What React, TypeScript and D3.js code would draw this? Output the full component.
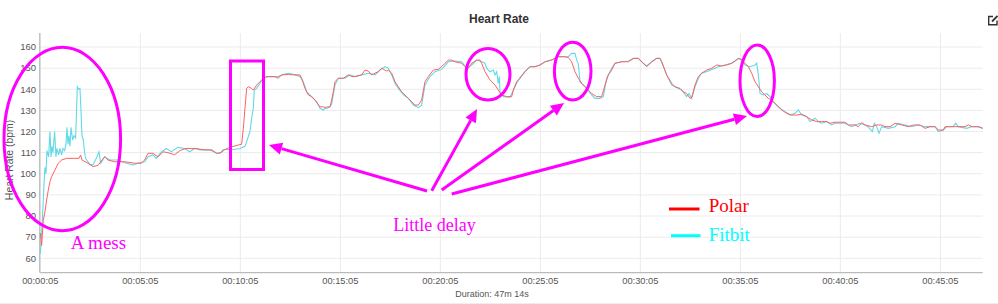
import React from "react";
import * as d3 from "d3";

// ---- data (time in seconds since start, heart rate in bpm) ----
const polarTimes = [5,9,14,19,24,29,34,39,49,59,69,84,121,126,130,148,163,178,198,208,228,258,288,308,318,328,343,358,373,388,408,424,442,469,499,520,534,547,559,574,599,609,614,619,624,629,639,644,654,664,674,684,709,718,729,749,769,784,789,799,809,819,829,844,854,864,874,879,884,889,899,914,929,939,949,969,979,989,999,1009,1019,1029,1044,1049,1059,1069,1079,1089,1099,1109,1119,1129,1139,1149,1159,1169,1184,1199,1209,1219,1229,1239,1249,1269,1279,1289,1299,1314,1324,1329,1339,1354,1369,1379,1389,1404,1419,1424,1434,1444,1459,1474,1489,1504,1519,1539,1559,1579,1589,1599,1609,1619,1629,1644,1659,1674,1689,1699,1709,1719,1729,1749,1769,1784,1799,1814,1824,1839,1854,1864,1869,1884,1899,1909,1924,1934,1944,1954,1959,1969,1979,1989,2004,2019,2034,2049,2064,2079,2089,2099,2109,2119,2129,2139,2149,2159,2169,2179,2189,2199,2209,2219,2229,2244,2259,2274,2289,2304,2319,2334,2349,2364,2374,2389,2419,2429,2449,2459,2469,2479,2499,2514,2529,2539,2554,2569,2589,2609,2624,2644,2659,2674,2689,2699,2714,2719,2749,2779,2789,2800,2818,2832];
const polarValues = [72,66,78,82,87.6,92.3,96.3,98.6,101.8,105,106.5,107.3,107.3,108.9,106.5,105,103.4,104,108.1,106.5,105.7,105.7,105,105,106.5,109.7,109.7,108,110.4,110,109,111,112,112,111.3,111.3,109.7,110,111.5,112.5,113.6,114,121.5,131,140.4,141.2,140.4,139.6,142,143.6,145.2,146,146,145.2,146.8,147,146.8,146.8,145.2,140.4,137.3,136.5,134.9,131.7,131.7,131,131.7,134.9,138.8,143.6,145.2,145.2,146.8,146,146,146.8,149.1,148.6,146.8,147.6,148.3,149.9,148.6,149,147.6,143.6,141.2,138.8,137.3,135.7,134.1,132.5,132.5,134.9,143.6,146,149.1,149.4,150.7,152.3,153.8,153.8,153,152.3,150.7,149.9,152.3,153.8,153.8,152.3,148.3,144.4,142,139.6,137.3,136.5,136.5,139.6,143.6,145.2,148.3,150.7,150.7,151.5,153,153.8,155.4,155.4,155,153,148.3,145.2,142.8,140.4,138,136.5,136.5,142,146.8,149.1,152.3,153,153,154.6,154.6,152.3,150.7,153,154.6,154.6,153,146.8,142.8,141.2,140.4,138.8,138,135.7,136,142,146,147.6,149.1,149.9,151.5,151,151.5,152.3,153.3,154.6,154,152.3,150.7,147.6,143.6,141.2,138.8,137.3,135.7,134.9,133.3,131.7,130.2,128.6,127.8,127.8,128.2,127,125.5,124.7,124.7,124.7,123.9,124.4,124.4,123.1,123.1,122.3,124.2,123.1,122.3,123.1,123.1,122.3,122.3,123.9,123.1,122.3,123.1,123.1,121.5,122.3,122.3,120.7,120.7,122.3,122.3,122.3,123.1,122.3,122.3,121.5];

const fitbitTimes = [5,9,13,16,19,22,25,30,34,37,40,43,48,52,55,60,64,69,73,78,82,85,88,91,94,97,102,106,111,116,120,124,127,130,134,138,142,148,154,163,173,181,186,190,198,213,238,263,283,298,318,328,343,353,368,383,398,418,438,453,468,484,514,534,544,554,584,604,619,624,634,639,644,647,654,664,674,689,718,733,749,769,784,794,804,819,834,844,854,864,874,879,889,899,919,934,949,969,989,1009,1024,1039,1049,1059,1069,1079,1094,1109,1124,1139,1149,1159,1174,1189,1209,1229,1249,1269,1284,1299,1314,1329,1339,1344,1354,1364,1369,1374,1379,1382,1384,1394,1414,1422,1434,1444,1459,1474,1489,1504,1519,1539,1559,1579,1589,1599,1609,1614,1619,1624,1634,1644,1659,1669,1684,1694,1704,1719,1729,1749,1769,1784,1799,1814,1824,1839,1854,1864,1869,1884,1899,1909,1929,1944,1951,1959,1969,1979,1989,2009,2039,2079,2099,2109,2119,2134,2149,2154,2159,2164,2174,2184,2194,2204,2219,2229,2239,2254,2269,2279,2289,2304,2314,2329,2339,2349,2364,2379,2389,2419,2429,2439,2449,2464,2479,2488,2501,2507,2514,2521,2529,2549,2569,2579,2599,2619,2639,2659,2689,2699,2714,2724,2743,2751,2758,2784,2799,2818,2832];
const fitbitValues = [62,72,84,95,103,100,111,108,120,108,113,110,120,108,112,109,112,109,112,111,114,122,114,118,113,122,116,118,117,141.2,140,140.4,130.2,118,116,109.7,107,105.7,104.5,104.2,107.3,110.4,105,106,108.1,106.5,106.5,105,104.2,105,105.7,108.1,108.9,107.3,110.4,112,110.5,112.5,112,110.4,112,111.3,111.3,109.7,109.7,111.5,111.5,112,113,115.2,120,126.3,131,139.6,140.4,142.8,145.2,146,146,147,147.6,146.8,146,143.6,138.8,136.5,134.1,131,130.2,131.7,131.7,133,142,145.2,145.2,146.8,146,146.8,147.6,146.8,149.1,150.7,149.9,146.8,142.8,140.4,137.3,135.7,132.5,131.3,132.5,142,146,148.3,149.4,153,153.4,153,149.9,151.5,153.8,153,152.3,149.9,148.3,149.1,146.8,148.3,142.8,146,138.8,136.5,136.3,138.8,142.8,145.5,148.3,150.7,150.7,151.5,153,154,155.4,155.4,155.4,157,157,153.8,152,143.6,142,140.4,137.3,135.7,135.7,136.5,145.2,149.9,152.3,153,153.4,154.6,154.6,152.3,151,153,154.6,154.6,153,146.8,142,141.2,139.6,136.5,138,135.7,141.2,145.2,147.6,148.6,150.7,152.3,154.6,154,151.5,150.7,151.5,152.3,146.8,138,137.3,138,136.5,134,131.7,130.5,129.4,127.8,128.6,130.2,127.8,127,124.7,126.3,124.7,123.9,124.7,123.1,123.9,123.9,123.1,122.3,123.1,123.9,123.1,122.3,120,123.9,122.3,119.2,122.3,121.5,122.3,123.9,123.1,122.3,123.1,122.3,122.3,120,120.7,122.3,122.3,123.9,122.3,121.5,122.3,122.3,121.5];

const yTicks = [60, 70, 80, 90, 100, 110, 120, 130, 140, 150, 160];
const xTicks = [5, 305, 605, 905, 1205, 1505, 1805, 2105, 2405, 2705];

const TITLE = "Heart Rate";
const Y_LABEL = "Heart Rate (bpm)";
const DURATION = "Duration: 47m 14s";

const fmtTime = (s: number) => {
  const h = Math.floor(s / 3600);
  const m = Math.floor((s % 3600) / 60);
  const sec = s % 60;
  const p = (n: number) => String(n).padStart(2, "0");
  return `${p(h)}:${p(m)}:${p(sec)}`;
};

const MAGENTA = "#ff00ff";
const SANS = "'Liberation Sans', Arial, sans-serif";
const SERIF = "'Liberation Serif', 'Times New Roman', serif";

function Arrow({ x1, y1, x2, y2 }: { x1: number; y1: number; x2: number; y2: number }) {
  const ang = Math.atan2(y2 - y1, x2 - x1);
  const L = 13, W = 6;
  const bx = x2 - L * Math.cos(ang), by = y2 - L * Math.sin(ang);
  const px = -Math.sin(ang) * W, py = Math.cos(ang) * W;
  return (
    <g>
      <line x1={x1} y1={y1} x2={bx} y2={by} stroke={MAGENTA} strokeWidth={3} />
      <path d={`M${x2},${y2}L${bx + px},${by + py}L${bx - px},${by - py}Z`} fill={MAGENTA} />
    </g>
  );
}

export default function App() {
  const W = 998, H = 304;
  const left = 40.3, right = 982.7, top = 33, bottom = 272.7;
  const x = d3.scaleLinear().domain([5, 2832]).range([left, right]);
  const y = d3.scaleLinear().domain([60, 160]).range([258.3, 47]);

  const polar = polarTimes.map((t, i) => [t, polarValues[i]] as [number, number]);
  const fitbit = fitbitTimes.map((t, i) => [t, fitbitValues[i]] as [number, number]);
  const line = d3.line<[number, number]>().x(d => x(d[0])).y(d => y(d[1])).curve(d3.curveLinear);

  return (
    <svg width={W} height={H} style={{ position: "absolute", left: 0, top: 0, background: "#fff" }}>
      <rect x={0} y={0} width={W} height={H} fill="#fff" />
      {/* title */}
      <text x={499} y={23} textAnchor="middle" fontFamily={SANS} fontWeight="bold" fontSize={12} fill="#333">{TITLE}</text>
      {/* edit icon */}
      <g stroke="#333" fill="none" strokeWidth={1.4}>
        <path d="M993,16.5 H988.7 V24.8 H997 V20.5" />
        <path d="M992,21.5 L997.5,16" strokeWidth={1.8} />
      </g>
      {/* grid */}
      {yTicks.map(v => (
        <line key={"gy" + v} x1={left} x2={right} y1={y(v)} y2={y(v)} stroke="#ebebeb" strokeWidth={1} />
      ))}
      {xTicks.map(t => (
        <line key={"gx" + t} x1={x(t)} x2={x(t)} y1={top} y2={bottom} stroke="#ebebeb" strokeWidth={1} />
      ))}
      {/* axes */}
      <line x1={left - 0.5} x2={left - 0.5} y1={top} y2={bottom} stroke="#aaa" strokeWidth={1} />
      <line x1={left} x2={right} y1={bottom} y2={bottom} stroke="#aaa" strokeWidth={1} />
      {yTicks.map(v => (
        <text key={"ty" + v} x={36} y={y(v) + 3.3} textAnchor="end" fontFamily={SANS} fontSize={9.5} fill="#555">{v}</text>
      ))}
      {xTicks.map(t => (
        <text key={"tx" + t} x={x(t)} y={284} textAnchor="middle" fontFamily={SANS} fontSize={9.3} fill="#555">{fmtTime(t)}</text>
      ))}
      <text x={492} y={296.5} textAnchor="middle" fontFamily={SANS} fontSize={9} fill="#555">{DURATION}</text>
      <text transform="translate(13,160) rotate(-90)" textAnchor="middle" fontFamily={SANS} fontSize={10.4} fill="#555">{Y_LABEL}</text>
      <line x1={0} x2={W} y1={303.5} y2={303.5} stroke="#eee" strokeWidth={1} />
      {/* series */}
      <path d={line(fitbit) || ""} fill="none" stroke="#62d9e6" strokeWidth={1.1} />
      <path d={line(polar) || ""} fill="none" stroke="#ff6060" strokeWidth={1} />
      {/* annotations */}
      <g fill="none" stroke={MAGENTA} strokeWidth={3}>
        <ellipse cx={62.3} cy={139} rx={58.3} ry={91.7} />
        <rect x={230.5} y={61} width={33} height={108.5} />
        <ellipse cx={488} cy={74.2} rx={22} ry={25.8} />
        <ellipse cx={572.7} cy={71.2} rx={18.3} ry={28.9} />
        <ellipse cx={757.2} cy={80.8} rx={17.2} ry={35.8} />
      </g>
      <Arrow x1={427} y1={191} x2={269} y2={145} />
      <Arrow x1={431.7} y1={190.7} x2={477} y2={109} />
      <Arrow x1={441.7} y1={190} x2={564} y2={103} />
      <Arrow x1={451.7} y1={194} x2={747} y2={116} />
      <text x={70.7} y={249.3} fontFamily={SERIF} fontSize={19} fill={MAGENTA}>A mess</text>
      <text x={393.3} y={230.7} fontFamily={SERIF} fontSize={18} fill={MAGENTA}>Little delay</text>
      {/* legend */}
      <line x1={669} x2={699.5} y1={209} y2={209} stroke="#ff0000" strokeWidth={3} />
      <text x={708.7} y={212} fontFamily={SERIF} fontSize={19} fill="#ff0000">Polar</text>
      <line x1={671} x2={700.5} y1={235.7} y2={235.7} stroke="#00ffff" strokeWidth={3} />
      <text x={708.7} y={241} fontFamily={SERIF} fontSize={19} fill="#00ffff">Fitbit</text>
    </svg>
  );
}
